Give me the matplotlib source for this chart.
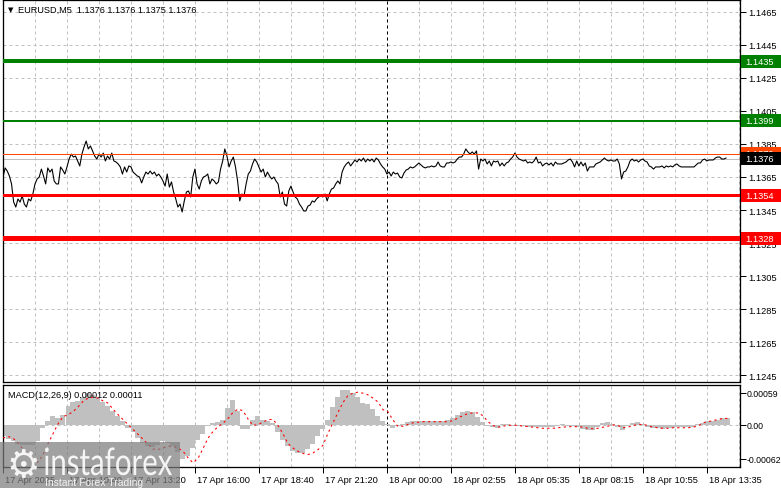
import numpy as np
import matplotlib
matplotlib.use('Agg')
import matplotlib.pyplot as plt
from matplotlib.transforms import ScaledTranslation, blended_transform_factory, Affine2D
from matplotlib.textpath import TextPath
from matplotlib.patches import PathPatch, Rectangle
from matplotlib.font_manager import FontProperties

plt.rcParams['font.family'] = ['Liberation Sans', 'DejaVu Sans']

# EURUSD M5 closes, 17 Apr 2025 -> 18 Apr 2025 13:35
close = [
    1.13650, 1.13705, 1.13686, 1.13656, 1.13608, 1.13498, 1.13468, 1.13517, 1.13498, 1.13535,
    1.13486, 1.13468, 1.13517, 1.13505, 1.13547, 1.13608, 1.13638, 1.13650, 1.13698, 1.13656,
    1.13608, 1.13705, 1.13680, 1.13698, 1.13626, 1.13608, 1.13608, 1.13711, 1.13692, 1.13668,
    1.13711, 1.13759, 1.13789, 1.13771, 1.13777, 1.13747, 1.13717, 1.13789, 1.13832, 1.13868,
    1.13820, 1.13838, 1.13808, 1.13777, 1.13759, 1.13789, 1.13771, 1.13795, 1.13747, 1.13777,
    1.13759, 1.13795, 1.13747, 1.13741, 1.13729, 1.13711, 1.13668, 1.13711, 1.13680, 1.13717,
    1.13711, 1.13680, 1.13668, 1.13656, 1.13650, 1.13614, 1.13650, 1.13680, 1.13668, 1.13686,
    1.13668, 1.13680, 1.13656, 1.13668, 1.13650, 1.13626, 1.13595, 1.13668, 1.13589, 1.13620,
    1.13559, 1.13517, 1.13468, 1.13486, 1.13438, 1.13505, 1.13559, 1.13565,
    1.13529, 1.13650, 1.13698, 1.13608, 1.13577, 1.13626, 1.13650, 1.13656, 1.13668, 1.13608,
    1.13638, 1.13626, 1.13608, 1.13620, 1.13698, 1.13747, 1.13820, 1.13777, 1.13711, 1.13747,
    1.13771, 1.13711, 1.13626, 1.13505, 1.13547, 1.13535, 1.13608, 1.13668, 1.13686, 1.13729,
    1.13759, 1.13741, 1.13711, 1.13680, 1.13698, 1.13650, 1.13680, 1.13656, 1.13638, 1.13650,
    1.13626, 1.13608, 1.13529, 1.13559, 1.13486, 1.13474, 1.13565, 1.13595, 1.13559, 1.13529,
    1.13517, 1.13486, 1.13468, 1.13444, 1.13444, 1.13474, 1.13480, 1.13505, 1.13498, 1.13517,
    1.13529, 1.13535, 1.13529, 1.13547, 1.13505, 1.13547, 1.13577, 1.13583, 1.13608, 1.13626,
    1.13608, 1.13680, 1.13711, 1.13729, 1.13741, 1.13717, 1.13735, 1.13753, 1.13741, 1.13759,
    1.13747, 1.13765, 1.13741, 1.13759, 1.13747, 1.13759, 1.13741, 1.13765, 1.13753, 1.13729,
    1.13711,
    1.13698, 1.13668, 1.13680, 1.13656, 1.13680, 1.13668, 1.13674, 1.13650, 1.13644, 1.13674,
    1.13692, 1.13698, 1.13711, 1.13705, 1.13711, 1.13723, 1.13735, 1.13723, 1.13711, 1.13705,
    1.13711, 1.13711, 1.13717, 1.13711, 1.13717, 1.13741, 1.13717, 1.13711, 1.13711, 1.13735,
    1.13735, 1.13741, 1.13735, 1.13741, 1.13759, 1.13771, 1.13771, 1.13789, 1.13820, 1.13802,
    1.13789, 1.13802, 1.13789, 1.13808, 1.13698, 1.13759, 1.13747, 1.13759, 1.13729, 1.13747,
    1.13717, 1.13747, 1.13741, 1.13747, 1.13717, 1.13735, 1.13717, 1.13735, 1.13741, 1.13759,
    1.13771, 1.13795, 1.13771, 1.13759, 1.13753, 1.13747, 1.13753, 1.13735, 1.13741, 1.13735,
    1.13747, 1.13771, 1.13735, 1.13741, 1.13717, 1.13729, 1.13735, 1.13723, 1.13735, 1.13717,
    1.13741, 1.13729, 1.13729, 1.13729, 1.13735,
    1.13741, 1.13753, 1.13759, 1.13741, 1.13711, 1.13747, 1.13717, 1.13741, 1.13717, 1.13735,
    1.13686, 1.13711, 1.13711, 1.13711, 1.13729, 1.13735, 1.13741, 1.13753, 1.13765, 1.13753,
    1.13747, 1.13753, 1.13747, 1.13747, 1.13759, 1.13729, 1.13638, 1.13680, 1.13686, 1.13711,
    1.13747, 1.13759, 1.13747, 1.13753, 1.13741, 1.13753, 1.13759, 1.13747, 1.13741, 1.13717,
    1.13711, 1.13698, 1.13711, 1.13711, 1.13711, 1.13717, 1.13705, 1.13717, 1.13711, 1.13717,
    1.13711, 1.13723, 1.13729, 1.13717, 1.13711, 1.13711, 1.13711, 1.13711, 1.13711, 1.13711,
    1.13711, 1.13723, 1.13735, 1.13735, 1.13753, 1.13759, 1.13747, 1.13753, 1.13753, 1.13753,
    1.13765, 1.13771, 1.13771, 1.13759, 1.13759, 1.13765,
]
n_bars = 362  # M5 bars on screen

# MACD(12,26,9) histogram and signal, one sample every 2.5 bars
macd_hist = [
    -0.00020, -0.00025, -0.00030, -0.00034, -0.00036, -0.00037, -0.00036, -0.00030, -0.00005, 0.00008,
    0.00017, 0.00013, 0.00019, 0.00034, 0.00042, 0.00043, 0.00051, 0.00058, 0.00055, 0.00050,
    0.00042, 0.00034, 0.00025, 0.00017, 0.00007, -0.00005, -0.00013, -0.00023, -0.00032, -0.00039,
    -0.00040, -0.00036, -0.00030, -0.00032, -0.00038, -0.00050, -0.00063, -0.00056, -0.00042, -0.00028,
    -0.00016, -0.00002, 0.00004, 0.00005, 0.00009, 0.00031, 0.00045, 0.00025, -0.00007, -0.00007,
    0.00010, 0.00016, 0.00009, 0.00007, 0.00004, -0.00013, -0.00028, -0.00038, -0.00047, -0.00052,
    -0.00051, -0.00044, -0.00034, -0.00021, -0.00007, 0.00010, 0.00033, 0.00051, 0.00063, 0.00063,
    0.00058, 0.00052, 0.00041, 0.00038, 0.00029, 0.00016, 0.00008, 0.00002, -0.00006, -0.00002,
    0.00002, 0.00006, 0.00008, 0.00008, 0.00008, 0.00007, 0.00007, 0.00007, 0.00008, 0.00009,
    0.00012, 0.00018, 0.00024, 0.00026, 0.00023, 0.00015, 0.00005, -0.00002, -0.00004, -0.00005,
    0.00001, 0.00001, -0.00001, -0.00002, -0.00002, -0.00004, -0.00004, -0.00004, -0.00004, -0.00004,
    -0.00004, -0.00002, 0.00001, -0.00001, -0.00002, -0.00004, -0.00007, -0.00010, -0.00009, -0.00004,
    0.00004, 0.00005, 0.00002, -0.00004, -0.00009, -0.00001, 0.00004, 0.00005, 0.00001, -0.00003,
    -0.00005, -0.00006, -0.00007, -0.00006, -0.00005, -0.00004, -0.00004, -0.00004, -0.00004, 0.00001,
    0.00004, 0.00007, 0.00008, 0.00010, 0.00013, 0.00012,
]
macd_signal = [
    -0.00024, -0.00021, -0.00024, -0.00033, -0.00044, -0.00053, -0.00062, -0.00068, -0.00054, -0.00034,
    -0.00016, 0.00002, 0.00015, 0.00019, 0.00024, 0.00033, 0.00043, 0.00049, 0.00051, 0.00049,
    0.00044, 0.00040, 0.00029, 0.00019, 0.00010, 0.00001, -0.00008, -0.00017, -0.00026, -0.00035,
    -0.00044, -0.00045, -0.00042, -0.00039, -0.00039, -0.00042, -0.00048, -0.00060, -0.00069, -0.00061,
    -0.00043, -0.00024, -0.00012, -0.00003, 0.00003, 0.00012, 0.00023, 0.00029, 0.00026, 0.00011,
    -0.00001, 0.00001, 0.00005, 0.00010, 0.00010, -0.00001, -0.00016, -0.00034, -0.00042, -0.00048,
    -0.00052, -0.00054, -0.00051, -0.00045, -0.00037, -0.00015, 0.00004, 0.00023, 0.00041, 0.00054,
    0.00058, 0.00060, 0.00058, 0.00055, 0.00049, 0.00042, 0.00028, 0.00024, 0.00009, -0.00003,
    -0.00002, 0.00001, 0.00004, 0.00005, 0.00006, 0.00006, 0.00006, 0.00006, 0.00006, 0.00006,
    0.00008, 0.00013, 0.00017, 0.00021, 0.00022, 0.00022, 0.00017, 0.00006, -0.00001, -0.00004,
    -0.00002, -0.00001, 0.00000, -0.00001, -0.00002, -0.00003, -0.00004, -0.00005, -0.00006, -0.00006,
    -0.00006, -0.00005, -0.00004, -0.00003, -0.00003, -0.00003, -0.00004, -0.00006, -0.00007, -0.00006,
    -0.00004, -0.00002, 0.00000, -0.00001, -0.00005, -0.00004, -0.00001, 0.00001, 0.00001, -0.00001,
    -0.00004, -0.00005, -0.00006, -0.00006, -0.00005, -0.00005, -0.00005, -0.00005, -0.00004, -0.00002,
    0.00004, 0.00006, 0.00008, 0.00010, 0.00012, 0.00012,
]
macd_step = 2.5

price_ticks = [1.1465, 1.1445, 1.1425, 1.1405, 1.1385, 1.1365, 1.1345, 1.1325, 1.1305, 1.1285, 1.1265, 1.1245]
macd_ticks = [0.00059, 0.0, -0.00062]
time_labels = ['17 Apr 2025', '17 Apr 10:40', '17 Apr 13:20', '17 Apr 16:00', '17 Apr 18:40', '17 Apr 21:20',
               '18 Apr 00:00', '18 Apr 02:55', '18 Apr 05:35', '18 Apr 08:15', '18 Apr 10:55', '18 Apr 13:35']
bars_per_label = 32
day_break = 6  # index of the "18 Apr 00:00" label

levels = [1.1435, 1.1399, 1.1379, 1.1376, 1.1354, 1.1328]
level_line_col = ['#008000', '#008000', '#ff4500', '#c0c0c0', '#ff0000', '#ff0000']
level_box_col = ['#008000', '#008000', '#ff4500', '#000000', '#ff0000', '#ff0000']
level_lw = [4, 2, 1, 1, 3, 5]  # px

W, H = 781, 489
PX = 0.72  # one pixel in points
FS = 6.7
fig = plt.figure(figsize=(W / 100, H / 100), dpi=100)
ax = fig.add_axes([3 / W, 1 - 383 / H, 737 / W, 382 / H])
ax2 = fig.add_axes([3 / W, 1 - 468 / H, 737 / W, 82 / H])

xmax = 368.5
ymin, ymax = 1.124076, 1.147227
for a in (ax, ax2):
    a.set_xlim(0, xmax)
    for s in a.spines.values():
        s.set_linewidth(PX * 1.3)
        s.set_color('black')
    for gx in np.arange(16, xmax, 16):
        a.axvline(gx, color='#c0c0c0', lw=PX, ls=(0, (3, 3)), zorder=0)
    a.axvline(day_break * bars_per_label, color='black', lw=PX, ls=(0, (3, 3)), zorder=1)

# main price panel
ax.set_ylim(ymin, ymax)
for p in price_ticks:
    ax.axhline(p, color='#c0c0c0', lw=PX, ls=(0, (3, 3)), zorder=0)
xs = np.linspace(0, n_bars - 0.5, len(close))
ax.plot(xs, close, color='black', lw=PX * 1.1, zorder=3)

trans = blended_transform_factory(ax.transAxes, ax.transData)
px_price = (ymax - ymin) / 382
for i, (lv, lc, bc, lw) in enumerate(zip(levels, level_line_col, level_box_col, level_lw)):
    ax.axhline(lv, color=lc, lw=lw * PX, zorder=4 if lc != '#c0c0c0' else 2)
    z = 10 + 2 * i
    ax.add_patch(Rectangle((1.0015, lv - 6.5 * px_price), 41 / 737, 13 * px_price, transform=trans,
                           facecolor=bc, edgecolor='none', clip_on=False, zorder=z))
    ax.text(1.0, lv, '%.4f' % lv, transform=trans + ScaledTranslation(5 / 100, 0, fig.dpi_scale_trans),
            color='white', fontsize=FS, va='center', ha='left', clip_on=False, zorder=z + 1)

ax.set_xticks([])
ax.yaxis.tick_right()
ax.set_yticks(price_ticks)
ax.set_yticklabels(['%.4f' % p for p in price_ticks])
ax.tick_params(axis='y', length=4, width=PX, pad=2, labelsize=FS, colors='black')

ax.text(5 / 737, 1 - 9 / 382, '\u25bc', transform=ax.transAxes, fontsize=5, va='center', ha='left',
        family=['DejaVu Sans'])
ax.text(15 / 737, 1 - 9 / 382, 'EURUSD,M5  1.1376 1.1376 1.1375 1.1376', transform=ax.transAxes,
        fontsize=6.6, va='center', ha='left')

# MACD panel
ax2.set_ylim(-0.000767, 0.00073)
ax2.axhline(0, color='#c0c0c0', lw=PX, ls=(0, (3, 3)), zorder=0)
mx = np.arange(len(macd_hist)) * macd_step
ax2.bar(mx, macd_hist, width=macd_step, color='#c0c0c0', linewidth=0, zorder=2)
ax2.plot(mx, macd_signal, color='red', lw=PX * 1.1, ls=(0, (2, 3)), zorder=3)
ax2.text(5 / 737, 1 - 10 / 82, 'MACD(12,26,9) 0.00012 0.00011', transform=ax2.transAxes,
         fontsize=6.6, va='center', ha='left', zorder=5)

ax2.yaxis.tick_right()
ax2.set_yticks(macd_ticks)
ax2.set_yticklabels(['0.00059', '0.00', '-0.00062'])
ax2.tick_params(axis='y', length=4, width=PX, pad=1, labelsize=6.3)
ax2.set_xticks(np.arange(len(time_labels)) * bars_per_label)
ax2.set_xticklabels(time_labels)
ax2.tick_params(axis='x', length=4, width=PX, pad=2, labelsize=FS)
for lbl in ax2.get_xticklabels():
    lbl.set_horizontalalignment('left')
    lbl.set_transform(lbl.get_transform() + ScaledTranslation(2 / 100, 0, fig.dpi_scale_trans))

# instaforex watermark
fig.patches.append(Rectangle((0, 0), 180 / W, 46 / H, transform=fig.transFigure,
                             facecolor='#7d7d7d', edgecolor='none', alpha=0.72, zorder=10))
tp = TextPath((0, 0), 'instaforex', size=10, prop=FontProperties(family='Lato'))
ext = tp.get_extents()
sx, sy = 127 / ext.width, 28 / ext.height
tr = Affine2D().translate(-ext.x0, 0).scale(sx, sy).translate(45, 13).scale(1 / W, 1 / H) + fig.transFigure
fig.patches.append(PathPatch(tp, transform=tr, facecolor='white', edgecolor='none', alpha=0.9, zorder=11))
fig.text(45 / W, 6 / H, 'Instant Forex Trading', color='white', alpha=0.85, fontsize=7.5,
         va='center', ha='left', zorder=11)
fig.text(23 / W, 22 / H, '\u2699', color='white', alpha=0.9, fontsize=27, va='center', ha='center',
         family=['DejaVu Sans'], zorder=11)

fig.savefig('out.png', dpi=100)
